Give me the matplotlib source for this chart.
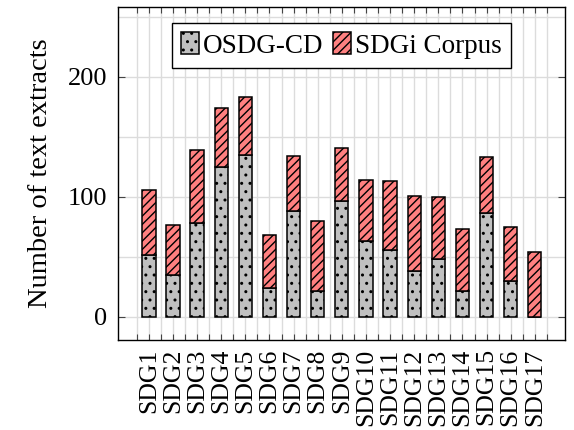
import matplotlib
matplotlib.use("Agg")
import matplotlib.pyplot as plt
import numpy as np
from matplotlib.ticker import MultipleLocator, FixedLocator

categories = ["SDG1", "SDG2", "SDG3", "SDG4", "SDG5", "SDG6", "SDG7", "SDG8", "SDG9",
              "SDG10", "SDG11", "SDG12", "SDG13", "SDG14", "SDG15", "SDG16", "SDG17"]
osdg = [52, 35, 78, 125, 135, 24, 88, 22, 97, 63, 56, 38, 48, 22, 87, 30, 0]
sdgi = [54, 42, 61, 49, 48, 44, 46, 58, 44, 51, 57, 63, 52, 51, 46, 45, 54]

plt.rcParams['font.family'] = ['Liberation Serif', 'DejaVu Serif']
plt.rcParams['hatch.linewidth'] = 1.0

fig = plt.figure(figsize=(5.74, 4.30), dpi=100)
ax = fig.add_axes([118/574, 1-340/430, (565-118)/574, (340-7)/430])

x = np.arange(1, len(categories) + 1)
w = 0.55
ax.bar(x, osdg, width=w, color='#c0c0c0', edgecolor='black', linewidth=1.1,
       hatch='..', label='OSDG-CD', zorder=3)
ax.bar(x, sdgi, width=w, bottom=osdg, color='#ff8080', edgecolor='black', linewidth=1.1,
       hatch='////', label='SDGi Corpus', zorder=3)

ax.set_xlim(1 - 1.28, 17 + 1.25)
ax.set_ylim(-19.2, 258.3)

ax.set_xticks(x)
ax.set_xticklabels(categories, rotation=90, fontsize=18.5)
ax.xaxis.set_minor_locator(FixedLocator(np.arange(0.5, 18.0, 1.0)))
ax.set_yticks([0, 100, 200])
ax.yaxis.set_minor_locator(MultipleLocator(50))
ax.tick_params(axis='y', labelsize=19)

ax.tick_params(which='major', direction='in', length=5, width=0.8, color='#444444',
               top=True, right=True, pad=8)
ax.tick_params(which='minor', direction='in', length=0, top=True, right=True)
ax.tick_params(axis='x', which='major', length=4, pad=6)
ax.tick_params(axis='x', which='minor', length=4, width=0.8, color='#444444')

ax.grid(True, which='both', color='#dcdcdc', linewidth=1.0, zorder=0)
ax.set_axisbelow(True)
for s in ax.spines.values():
    s.set_linewidth(1.0)
    s.set_color('black')

ax.set_ylabel('Number of text extracts', fontsize=20.5, labelpad=10)

leg = ax.legend(loc='upper center', ncol=2, fontsize=19.5, frameon=True, fancybox=False,
                edgecolor='black', framealpha=1, handlelength=0.65, handleheight=0.85,
                handletextpad=0.15, columnspacing=0.35, borderpad=0.35,
                borderaxespad=0, bbox_to_anchor=(0.5, 0.952))
leg.get_frame().set_linewidth(1.0)

fig.savefig('out.png', dpi=100)
